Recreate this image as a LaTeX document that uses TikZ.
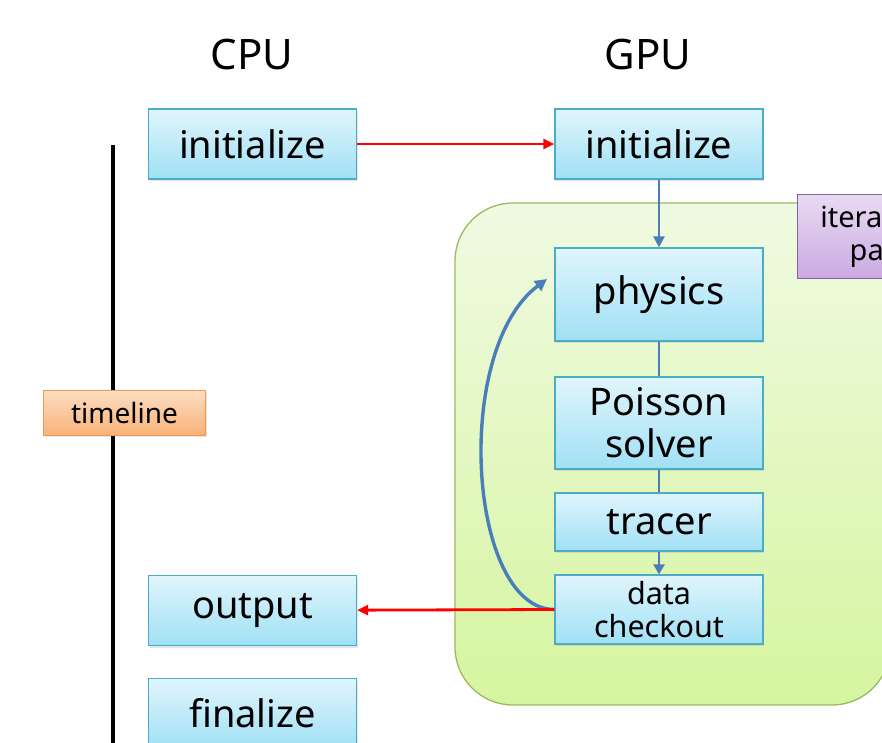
\documentclass[tikz,border=0pt]{standalone}
\usepackage{fontspec}
\setmainfont{Noto Sans}
\usetikzlibrary{positioning,arrows.meta,shadows}
\definecolor{BoxLine}{RGB}{75,172,198}
\definecolor{BoxTop}{RGB}{224,245,252}
\definecolor{BoxBottom}{RGB}{160,224,245}
\definecolor{LoopLine}{RGB}{155,187,89}
\definecolor{LoopTop}{RGB}{240,250,226}
\definecolor{LoopBottom}{RGB}{214,245,160}
\definecolor{NoteLine}{RGB}{128,100,162}
\definecolor{NoteTop}{RGB}{232,218,243}
\definecolor{NoteBottom}{RGB}{203,170,226}
\definecolor{TimeLine}{RGB}{247,150,70}
\definecolor{TimeTop}{RGB}{253,222,196}
\definecolor{TimeBottom}{RGB}{249,178,120}
\definecolor{FlowBlue}{RGB}{74,126,187}

\begin{document}
\begin{tikzpicture}[
    x=1pt,
    y=-1pt,
    stage/.style={
        draw=BoxLine,
        line width=1.3pt,
        top color=BoxTop,
        bottom color=BoxBottom,
        minimum width=208pt,
        minimum height=70pt,
        align=center,
        font=\fontsize{38}{42}\selectfont,
        drop shadow={opacity=0.2,shadow xshift=1pt,shadow yshift=-2pt}
    },
    side/.style={
        font=\fontsize{42}{46}\selectfont
    },
    tag/.style={
        draw=TimeLine,
        line width=1pt,
        top color=TimeTop,
        bottom color=TimeBottom,
        minimum width=162pt,
        minimum height=45pt,
        font=\fontsize{28}{32}\selectfont,
        drop shadow={opacity=0.2,shadow xshift=1pt,shadow yshift=-2pt}
    },
    note/.style={
        draw=NoteLine,
        line width=1pt,
        top color=NoteTop,
        bottom color=NoteBottom,
        minimum width=162pt,
        minimum height=83pt,
        align=center,
        font=\fontsize{29}{33}\selectfont
    },
    hostlink/.style={
        draw=red,
        line width=2.8pt,
        -{Triangle[length=11pt,width=10pt]}
    },
    devlink/.style={
        draw=FlowBlue,
        line width=2.8pt
    }
]
\clip (0,0) rectangle (882,743);

% loop region
\draw[draw=LoopLine,line width=1.3pt,top color=LoopTop,bottom color=LoopBottom,
    rounded corners=58pt] (455,203) rectangle (890,705);

\node[side] (cpu) at (252,55) {CPU};
\node[side] (gpu) at (648,55) {GPU};

% timeline
\coordinate (ttop) at (113,145);
\coordinate (tbot) at (113,760);
\draw[line width=3.2pt] (ttop) -- (tbot);
\node[tag] (timeline) at (124.5,412.5) {timeline};

% CPU side
\node[stage] (cpuinit) at (252.5,144) {initialize};
\node[stage] (output) at (252.5,610.5) {output};
\node[stage] (finalize) at (252.5,713.5) {finalize};

% GPU side
\node[stage] (gpuinit) at (659,144) {initialize};
\node[stage,minimum height=93pt] (physics) at (659,294.5) {physics};
\node[stage,minimum height=92pt] (poisson) at (659,423) {Poisson\\solver};
\node[stage,minimum height=58pt] (tracer) at (659,522) {tracer};
\node[stage,minimum height=69pt,font=\fontsize{30.5}{33}\selectfont] (checkout) at (659,609.5) {data\\checkout};

\node[note] (iter) at (878,236.5) {iteration\\part};

% connectors
\draw[hostlink] (cpuinit) -- (gpuinit);
\draw[devlink,-{Triangle[length=11pt,width=11pt]}] (gpuinit) -- (physics);
\draw[devlink] (physics) -- (poisson);
\draw[devlink] (poisson) -- (tracer);
\draw[devlink,-{Triangle[length=10pt,width=11pt]}] (tracer) -- (checkout);
\coordinate (back) at (547,279);
\draw[devlink,line width=3.4pt,-{Triangle[length=12pt,width=12pt]}]
    (checkout.west) .. controls (468,609) and (452,350) .. (back);
\draw[hostlink] (checkout.west) -- (output);
\end{tikzpicture}
\end{document}
